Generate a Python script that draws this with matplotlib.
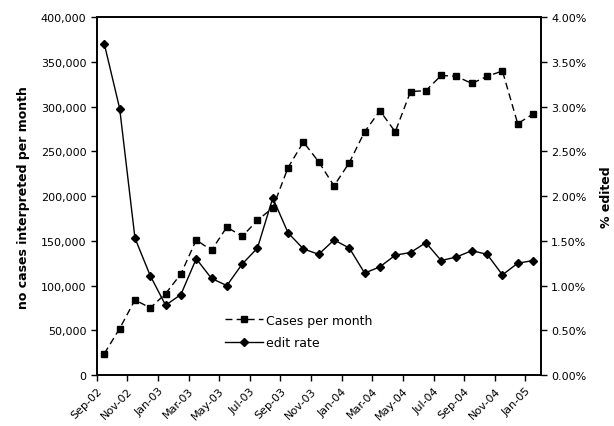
import numpy as np
import matplotlib
matplotlib.use("Agg")
import matplotlib.pyplot as plt
from matplotlib.ticker import FuncFormatter

# month labels (every second month is labelled)
months = ["Sep-02", "Oct-02", "Nov-02", "Dec-02",
          "Jan-03", "Feb-03", "Mar-03", "Apr-03", "May-03", "Jun-03",
          "Jul-03", "Aug-03", "Sep-03", "Oct-03", "Nov-03", "Dec-03",
          "Jan-04", "Feb-04", "Mar-04", "Apr-04", "May-04", "Jun-04",
          "Jul-04", "Aug-04", "Sep-04", "Oct-04", "Nov-04", "Dec-04",
          "Jan-05"]

cases = [24000, 52000, 84000, 75000, 91000, 113000, 151000, 139500,
         165500, 155000, 173000, 187000, 232000, 260500, 238500, 211500,
         237500, 272000, 295500, 272000, 317000, 318000, 335000, 334000,
         326000, 334000, 340000, 281000, 292000]

edit_rate = [3.70, 2.98, 1.53, 1.11, 0.78, 0.90, 1.30, 1.08, 1.00, 1.24,
             1.42, 1.98, 1.59, 1.41, 1.35, 1.51, 1.42, 1.14, 1.21, 1.34,
             1.37, 1.48, 1.28, 1.32, 1.39, 1.35, 1.12, 1.25, 1.28]

plt.rcParams["font.family"] = "DejaVu Sans"
plt.rcParams["font.size"] = 8

fig = plt.figure(figsize=(6.14, 4.27), dpi=100)
ax = fig.add_axes([0.1575, 0.1194, 0.7231, 0.8377])
ax2 = ax.twinx()

x = np.arange(len(months))
l1, = ax.plot(x, cases, color="black", linestyle=(0, (5, 3)), linewidth=1,
              marker="s", markersize=5, label="Cases per month")
l2, = ax2.plot(x, edit_rate, color="black", linestyle="-", linewidth=1,
               marker="D", markersize=4.2, label="edit rate")

ax.set_xlim(-0.5, len(months) - 0.5)
ax.set_ylim(0, 400000)
ax.set_yticks(np.arange(0, 400001, 50000))
ax.yaxis.set_major_formatter(FuncFormatter(lambda v, p: f"{int(v):,}"))
ax2.set_ylim(0, 4.0)
ax2.set_yticks(np.arange(0, 4.01, 0.5))
ax2.yaxis.set_major_formatter(FuncFormatter(lambda v, p: f"{v:.2f}%"))

ax.set_xticks(x[::2] - 0.5)
ax.set_xticklabels(months[::2], rotation=45, ha="right", rotation_mode="anchor")

for a in (ax, ax2):
    a.tick_params(direction="out", length=4, width=1, colors="black", labelsize=8)
    for s in a.spines.values():
        s.set_linewidth(1.2)

ax.set_ylabel("no cases interpreted per month", fontsize=9, fontweight="bold", labelpad=8)
ax2.set_ylabel("% edited", fontsize=9, fontweight="bold", labelpad=10)

ax.legend(handles=[l1, l2], loc="upper left", bbox_to_anchor=(0.278, 0.185),
          frameon=False, fontsize=9, handlelength=3, handletextpad=0.3,
          labelspacing=0.75, borderaxespad=0)

fig.savefig("out.png", dpi=100)
